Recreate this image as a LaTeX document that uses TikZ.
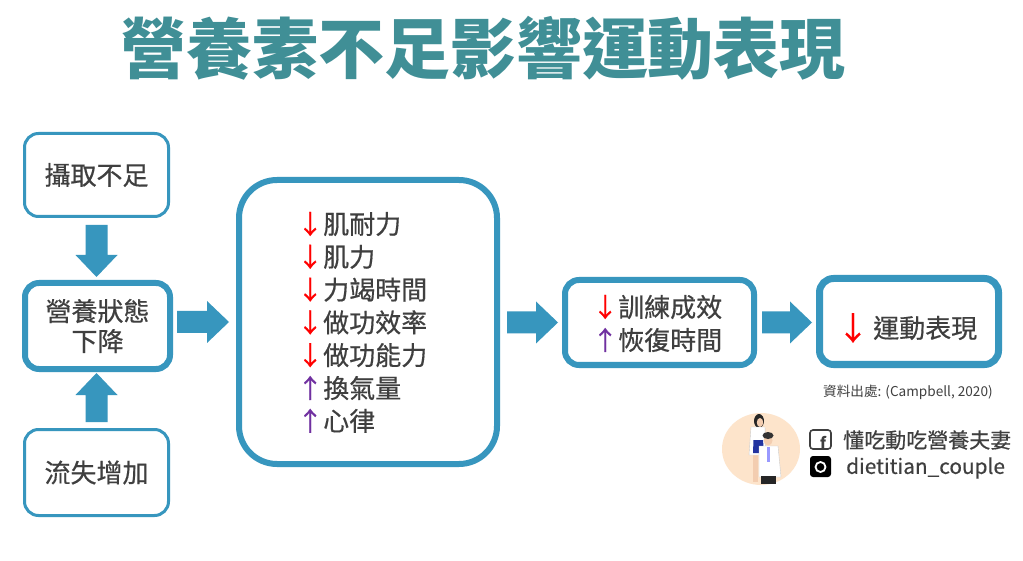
\documentclass[tikz,border=0pt]{standalone}
\usepackage{fontspec}
\newfontfamily\cjk{Noto Sans CJK TC}
\newfontfamily\cjkm[FakeBold=0.5]{Noto Sans CJK TC}
\usetikzlibrary{calc}
\definecolor{boxc}{HTML}{3796BE}
\definecolor{titlec}{HTML}{408F96}
\definecolor{txtc}{HTML}{3F3F3F}
\definecolor{upc}{HTML}{7030A0}
\definecolor{downc}{HTML}{FF0000}
\definecolor{peach}{HTML}{FDE4CB}
\definecolor{skin}{HTML}{F3CDB0}
\definecolor{dress}{HTML}{2233A0}
% horizontal block arrow (left to right)
\newcommand\harr[2]{\fill[blk] let \p1=(#1),\p2=(#2) in
  (\x1,\y1+11pt) -- (\x2-22pt,\y1+11pt) -- (\x2-22pt,\y1+21pt) -- (\x2,\y1)
  -- (\x2-22pt,\y1-21pt) -- (\x2-22pt,\y1-11pt) -- (\x1,\y1-11pt) -- cycle;}
% vertical block arrow pointing down
\newcommand\darr[2]{\fill[blk] let \p1=(#1),\p2=(#2) in
  (\x1-11pt,\y1) -- (\x1-11pt,\y2+22pt) -- (\x1-21pt,\y2+22pt) -- (\x1,\y2)
  -- (\x1+21pt,\y2+22pt) -- (\x1+11pt,\y2+22pt) -- (\x1+11pt,\y1) -- cycle;}
% vertical block arrow pointing up
\newcommand\uarr[2]{\fill[blk] let \p1=(#1),\p2=(#2) in
  (\x1-11pt,\y1) -- (\x1-11pt,\y2-22pt) -- (\x1-21pt,\y2-22pt) -- (\x1,\y2)
  -- (\x1+21pt,\y2-22pt) -- (\x1+11pt,\y2-22pt) -- (\x1+11pt,\y1) -- cycle;}
\begin{document}
\begin{tikzpicture}[x=1pt,y=-1pt,
  box/.style={draw=boxc, fill=white, rounded corners=14pt, align=center, text=txtc,
    font=\cjkm\fontsize{26}{30}\selectfont, inner sep=0pt},
  thinbox/.style={box, line width=3pt},
  thickbox/.style={box, line width=6pt},
  item/.style={anchor=west, inner sep=0pt, text=txtc, font=\cjkm\fontsize{26}{30}\selectfont},
  small/.style={anchor=west, inner sep=0pt, text=txtc, font=\cjk\fontsize{13.6}{15}\selectfont},
  blk/.style={fill=boxc}]
\fill[white] (0,0) rectangle (1023,561);
\useasboundingbox (0,0) rectangle (1023,561);

% title
\node[inner sep=0pt, text=titlec, font=\cjk\fontsize{66}{70}\selectfont\bfseries] (title) at (483,48) {營養素不足影響運動表現};

% left column
\node[thinbox, minimum width=144pt, minimum height=83pt] (b1) at (96.5,175) {攝取不足};
\node[thickbox, minimum width=145pt, minimum height=86pt] (b2) at (97.5,326) {營養狀態\\下降};
\node[thinbox, minimum width=144pt, minimum height=86pt] (b3) at (96.5,472.5) {流失增加};

% middle box
\node[thickbox, rounded corners=38pt, minimum width=258pt, minimum height=284pt] (mid) at (368,322) {};
\node[item] (m1) at (297,224) {\textcolor{downc}{↓}肌耐力};
\node[item] (m2) at (297,256.8) {\textcolor{downc}{↓}肌力};
\node[item] (m3) at (297,289.6) {\textcolor{downc}{↓}力竭時間};
\node[item] (m4) at (297,322.4) {\textcolor{downc}{↓}做功效率};
\node[item] (m5) at (297,355.2) {\textcolor{downc}{↓}做功能力};
\node[item] (m6) at (297,388) {\textcolor{upc}{↑}換氣量};
\node[item] (m7) at (297,420.8) {\textcolor{upc}{↑}心律};

% right boxes
\node[thickbox, minimum width=189pt, minimum height=85pt] (r1) at (659.5,322.5) {};
\node[item] (r1a) at (592,307) {\textcolor{downc}{↓}訓練成效};
\node[item] (r1b) at (592,340) {\textcolor{upc}{↑}恢復時間};
\node[box, line width=7pt, minimum width=179pt, minimum height=86pt] (r2) at (909,321.5) {};
\node[inner sep=0pt, text=downc, font=\cjkm\fontsize{32}{34}\selectfont] (r2a) at (853,328) {↓};
\node[item] (r2t) at (873,328) {運動表現};

\node[small] (src) at (823,392) {資料出處: (Campbell, 2020)};

% block arrows
\path (b1.south) ++(0,7) coordinate (a1s);
\path (b2.north) ++(0,-3) coordinate (a1e);
\darr{a1s}{a1e}
\path (b3.north) ++(0,-6) coordinate (a2s);
\path (b2.south) ++(0,1) coordinate (a2e);
\uarr{a2s}{a2e}
\path (b2.east |- mid.west) ++(4,0) coordinate (a3s);
\path (mid.west) ++(-7,0) coordinate (a3e);
\harr{a3s}{a3e}
\path (mid.east |- r1.west) ++(7,0) coordinate (a4s);
\path (r1.west) ++(-4,0) coordinate (a4e);
\harr{a4s}{a4e}
\path (r1.east) ++(5,0) coordinate (a5s);
\path (r2.west |- r1.east) ++(-4,0) coordinate (a5e);
\harr{a5s}{a5e}

% logo
\fill[peach] (761,449) ellipse [x radius=39, y radius=36];
% woman
\fill[black!85] (759,421) ellipse [x radius=5, y radius=7];
\fill[skin] (760,422.5) ellipse [x radius=3.2, y radius=4.5];
\fill[skin] (753,452) rectangle (758,482);
\fill[white, draw=gray!40, line width=0.4pt] (751,427) -- (765,427) -- (766,455) -- (749,455) -- cycle;
\fill[dress] (753.5,440) -- (763,440) -- (764,453) -- (753,453) -- cycle;
% man
\fill[white, draw=gray!40, line width=0.4pt] (759,446) -- (778,446) -- (781,477) -- (759,477) -- cycle;
\fill[black!85] (761,476) rectangle (776,484);
\fill[skin] (768,440.5) ellipse [x radius=4.5, y radius=5];
\fill[black!80] (768,435.5) ellipse [x radius=5.5, y radius=3.5];
\fill[blue!40] (767,447) rectangle (770,462);
% icons
\draw[txtc, line width=1.6pt, rounded corners=3pt] (810,430) rectangle (831,449);
\node[inner sep=0pt, text=txtc, font=\cjk\fontsize{15}{15}\selectfont\bfseries] (fbf) at (823,442) {f};
\fill[black, rounded corners=3pt] (810,456) rectangle (831,477);
\draw[white, line width=1.8pt] (820.5,467) circle [radius=5];
\node[anchor=west, inner sep=0pt, text=txtc, font=\cjkm\fontsize{21}{24}\selectfont] (fbname) at (843,440) {懂吃動吃營養夫妻};
\node[anchor=west, inner sep=0pt, text=txtc, font=\cjkm\fontsize{20.8}{24}\selectfont] (igname) at (846,468) {dietitian\_couple};
\end{tikzpicture}
\end{document}
